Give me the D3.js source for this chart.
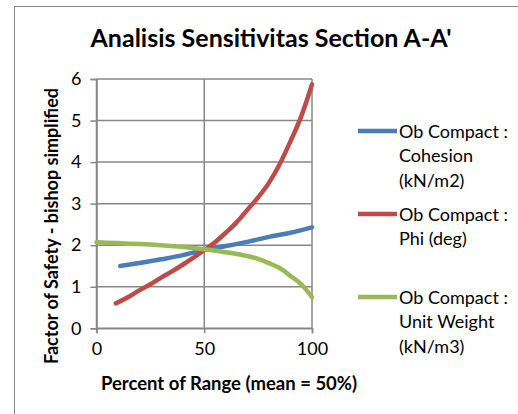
<!DOCTYPE html>
<html><head><meta charset="utf-8">
<script src="https://cdn.jsdelivr.net/npm/d3@7"></script>
<style>body{margin:0;background:#fff}svg{display:block}text{font-family:Lato,"Open Sans",sans-serif}</style>
</head><body><svg id="c" width="518" height="414"></svg>
<script>
const title = "Analisis Sensitivitas Section A-A'";
const xTitle = "Percent of Range (mean = 50%)";
const yTitle = "Factor of Safety - bishop simplified";
const xTicks = [0, 50, 100];
const yTicks = [0, 1, 2, 3, 4, 5, 6];

const cohesionX = [11, 20, 30, 40, 50, 60, 70, 80, 90, 100];
const cohesionY = [1.5, 1.57, 1.66, 1.76, 1.89, 1.98, 2.08, 2.2, 2.3, 2.43];
const phiX = [9, 15, 20, 25, 30, 35, 40, 45, 50, 55, 60, 65, 70, 75, 80, 85, 90, 95, 100];
const phiY = [0.6, 0.76, 0.92, 1.06, 1.22, 1.37, 1.53, 1.7, 1.88, 2.07, 2.3, 2.55, 2.85, 3.15, 3.5, 3.95, 4.5, 5.1, 5.87];
const weightX = [0, 10, 20, 30, 40, 50, 60, 65, 70, 75, 80, 85, 90, 95, 100];
const weightY = [2.07, 2.05, 2.03, 2.0, 1.96, 1.9, 1.83, 1.79, 1.74, 1.67, 1.57, 1.45, 1.26, 1.06, 0.75];

const seriesNames = [["Ob Compact :", "Cohesion", "(kN/m2)"], ["Ob Compact :", "Phi (deg)"], ["Ob Compact :", "Unit Weight", "(kN/m3)"]];
const seriesColors = ["#4A7EBB", "#BE4B48", "#98B954"];

const series = [
  cohesionX.map((x, i) => [x, cohesionY[i]]),
  phiX.map((x, i) => [x, phiY[i]]),
  weightX.map((x, i) => [x, weightY[i]])
];

const svg = d3.select("#c");
svg.append("rect").attr("x", 14.5).attr("y", 6.5).attr("width", 560).attr("height", 500)
  .attr("fill", "#fff").attr("stroke", "#868686").attr("stroke-width", 1);

const x = d3.scaleLinear().domain([0, 100]).range([96.5, 312]);
const y = d3.scaleLinear().domain([0, 6]).range([328.3, 79]);
const grid = "#878787";

const g = svg.append("g");
g.selectAll(".hg").data(yTicks).join("line")
  .attr("x1", x(0)).attr("x2", x(100)).attr("y1", d => y(d)).attr("y2", d => y(d))
  .attr("stroke", grid).attr("stroke-width", 1.5);
g.selectAll(".vg").data(xTicks).join("line")
  .attr("x1", d => x(d)).attr("x2", d => x(d)).attr("y1", y(0)).attr("y2", y(6))
  .attr("stroke", grid).attr("stroke-width", 1.5);

const yAxis = svg.append("g").attr("transform", `translate(${x(0)},0)`)
  .call(d3.axisLeft(y).tickValues(yTicks).tickFormat(d3.format("d")).tickSize(6).tickPadding(9));
const xAxis = svg.append("g").attr("transform", `translate(0,${y(0)})`)
  .call(d3.axisBottom(x).tickValues(xTicks).tickFormat(d3.format("d")).tickSize(5).tickPadding(9));
[yAxis, xAxis].forEach(a => {
  a.select(".domain").attr("stroke", grid).attr("stroke-width", 1.5);
  a.selectAll(".tick line").attr("stroke", grid).attr("stroke-width", 1.5);
  a.selectAll(".tick text").attr("font-family", "Lato").attr("font-size", 18).attr("fill", "#000");
});

const line = d3.line().x(d => x(d[0])).y(d => y(d[1])).curve(d3.curveMonotoneX);
svg.selectAll(".s").data(series).join("path")
  .attr("d", line).attr("fill", "none")
  .attr("stroke", (d, i) => seriesColors[i]).attr("stroke-width", 4.5).attr("stroke-linecap", "round");

svg.append("text").attr("x", 271).attr("y", 47).attr("text-anchor", "middle")
  .attr("font-size", 25).attr("font-weight", "bold").text(title);
svg.append("text").attr("x", 229).attr("y", 390).attr("text-anchor", "middle")
  .attr("font-size", 18.5).attr("font-weight", "bold").text(xTitle);
svg.append("text").attr("transform", "translate(58,226) rotate(-90)").attr("text-anchor", "middle")
  .attr("font-size", 18).attr("font-weight", "bold").text(yTitle);

const legTop = [131, 214, 297];
const leg = svg.selectAll(".leg").data(seriesNames).join("g");
leg.append("line").attr("x1", 358).attr("x2", 397).attr("y1", (d, i) => legTop[i]).attr("y2", (d, i) => legTop[i])
  .attr("stroke", (d, i) => seriesColors[i]).attr("stroke-width", 4.5);
leg.each(function(d, i) {
  const t = d3.select(this).append("text").attr("x", 399).attr("y", legTop[i] + 6.5).attr("font-size", 18);
  d.forEach((s, j) => t.append("tspan").attr("x", 399).attr("dy", j ? 24.5 : 0).text(s));
});
</script></body></html>
